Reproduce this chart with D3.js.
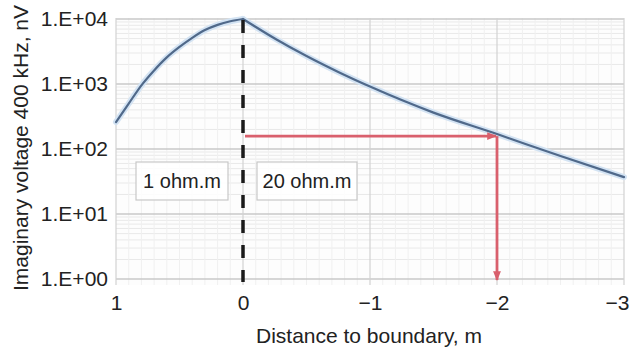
<!DOCTYPE html>
<html><head><meta charset="utf-8">
<script src="https://cdn.jsdelivr.net/npm/d3@7"></script>
<style>body{margin:0;background:#fff}svg{display:block;font-family:"Liberation Sans",Arial,sans-serif}</style>
</head><body><svg id="c" width="630" height="351"></svg>
<script>
const distance = [1, 0.9, 0.8, 0.7, 0.6, 0.5, 0.4, 0.3, 0.2, 0.1, 0, -0.25, -0.5, -0.75, -1, -1.5, -2, -2.5, -3];
const voltage  = [260, 500, 955, 1620, 2570, 3720, 5130, 6760, 8130, 9230, 10000, 5010, 2690, 1530, 912, 363, 170, 78, 37];
const xTicks = [1, 0, -1, -2, -3];
const xTickLabels = ["1", "0", "\u22121", "\u22122", "\u22123"];
const yTicks = [1, 10, 100, 1000, 10000];
const yTickLabels = ["1.E+00", "1.E+01", "1.E+02", "1.E+03", "1.E+04"];
const boundaryX = 0;
const readX = -2, readY = 158;
const zoneLabels = ["1 ohm.m", "20 ohm.m"];

const svg = d3.select("#c");
const L = 116, R = 624, T = 18, B = 285;
const x = d3.scaleLinear().domain([1, -3]).range([L, R]);
const y = d3.scaleLog().domain([0.81, 10000]).range([B, T + 1]);

const g = svg.append("g");
g.append("rect").attr("x", L).attr("y", T).attr("width", R - L).attr("height", B - T).attr("fill", "#fdfdfd");
// minor grid
const minorY = [];
for (let d = 1; d < 10000; d *= 10) for (let k = 2; k < 10; k++) minorY.push(d * k);
g.selectAll(".my").data(minorY).join("line").attr("x1", L).attr("x2", R)
  .attr("y1", d => y(d)).attr("y2", d => y(d)).attr("stroke", "#e9e9e9").attr("stroke-width", 1);
const minorX = d3.range(-30, 10).map(i => i / 10).filter(v => Math.abs(Math.round(v * 10) % 10) > 0);
g.selectAll(".mx").data(minorX).join("line").attr("y1", T).attr("y2", B)
  .attr("x1", d => x(d)).attr("x2", d => x(d)).attr("stroke", "#f0f0f0").attr("stroke-width", 1);
// major grid
g.selectAll(".Y").data(yTicks).join("line").attr("x1", L).attr("x2", R)
  .attr("y1", d => y(d)).attr("y2", d => y(d)).attr("stroke", "#c9c9c9").attr("stroke-width", 1.6);
g.selectAll(".X").data(xTicks).join("line").attr("y1", T).attr("y2", B)
  .attr("x1", d => x(d)).attr("x2", d => x(d)).attr("stroke", "#d2d2d2").attr("stroke-width", 1.2);

// axes labels
const yAxis = d3.axisLeft(y).tickValues(yTicks).tickFormat((d, i) => yTickLabels[i]).tickSize(0).tickPadding(8);
const ya = svg.append("g").attr("transform", `translate(${L},0)`).call(yAxis);
ya.select(".domain").remove();
ya.selectAll("text").attr("font-size", 21).attr("fill", "#222").style("font-family", "Liberation Sans, Arial");
const xAxis = d3.axisBottom(x).tickValues(xTicks).tickFormat((d, i) => xTickLabels[i]).tickSize(0).tickPadding(10);
const xa = svg.append("g").attr("transform", `translate(0,${B})`).call(xAxis);
xa.select(".domain").remove();
xa.selectAll("text").attr("font-size", 21).attr("fill", "#222").style("font-family", "Liberation Sans, Arial");
xa.selectAll("text").filter(d => d === -3).attr("text-anchor", "end").attr("x", 629 - x(-3));

svg.append("text").attr("x", 369).attr("y", 343).attr("text-anchor", "middle")
  .attr("font-size", 21).attr("fill", "#222").text("Distance to boundary, m");
svg.append("text").attr("transform", `translate(28,148) rotate(-90)`).attr("text-anchor", "middle")
  .attr("font-size", 21).attr("fill", "#222").text("Imaginary voltage 400 kHz, nV");

// curve: two branches meeting at the boundary peak
const peak = distance.indexOf(boundaryX);
const pts = distance.map((d, i) => [d, voltage[i]]);
const line = d3.line().x(d => x(d[0])).y(d => y(d[1])).curve(d3.curveMonotoneX);
[pts.slice(0, peak + 1), pts.slice(peak)].forEach(seg => {
  g.append("path").datum(seg).attr("d", line).attr("fill", "none").attr("stroke", "#d3e3f3").attr("stroke-width", 6).attr("stroke-linecap", "round");
});
[pts.slice(0, peak + 1), pts.slice(peak)].forEach(seg => {
  g.append("path").datum(seg).attr("d", line).attr("fill", "none").attr("stroke", "#50698a").attr("stroke-width", 2.2).attr("stroke-linecap", "round");
});

// zone boxes
const boxes = [{x0: 136, x1: 228, t: zoneLabels[0]}, {x0: 257, x1: 357, t: zoneLabels[1]}];
boxes.forEach(b => {
  svg.append("rect").attr("x", b.x0).attr("y", 162).attr("width", b.x1 - b.x0).attr("height", 38)
    .attr("fill", "#fff").attr("fill-opacity", 0.85).attr("stroke", "#c8c8c8").attr("stroke-width", 1.2);
  svg.append("text").attr("x", (b.x0 + b.x1) / 2).attr("y", 188).attr("text-anchor", "middle")
    .attr("font-size", 20).attr("fill", "#222").text(b.t);
});

// boundary dashed line
svg.append("line").attr("x1", x(boundaryX)).attr("x2", x(boundaryX)).attr("y1", T).attr("y2", B - 3)
  .attr("stroke", "#1a1a1a").attr("stroke-width", 3.5).attr("stroke-dasharray", "13,12").attr("stroke-dashoffset", -2);

// red arrows
const red = "#d9606d";
const defs = svg.append("defs");
defs.append("marker").attr("id", "ah").attr("viewBox", "0 0 10 10").attr("refX", 9).attr("refY", 5)
  .attr("markerWidth", 3.5).attr("markerHeight", 3.5).attr("orient", "auto")
  .append("path").attr("d", "M0,1 L10,5 L0,9 Z").attr("fill", red);
svg.append("line").attr("x1", x(boundaryX) + 2).attr("x2", x(readX) - 1).attr("y1", y(readY)).attr("y2", y(readY))
  .attr("stroke", red).attr("stroke-width", 2.8).attr("marker-end", "url(#ah)");
svg.append("line").attr("x1", x(readX)).attr("x2", x(readX)).attr("y1", y(readY)).attr("y2", B - 5)
  .attr("stroke", red).attr("stroke-width", 2.8).attr("marker-end", "url(#ah)");
</script></body></html>
